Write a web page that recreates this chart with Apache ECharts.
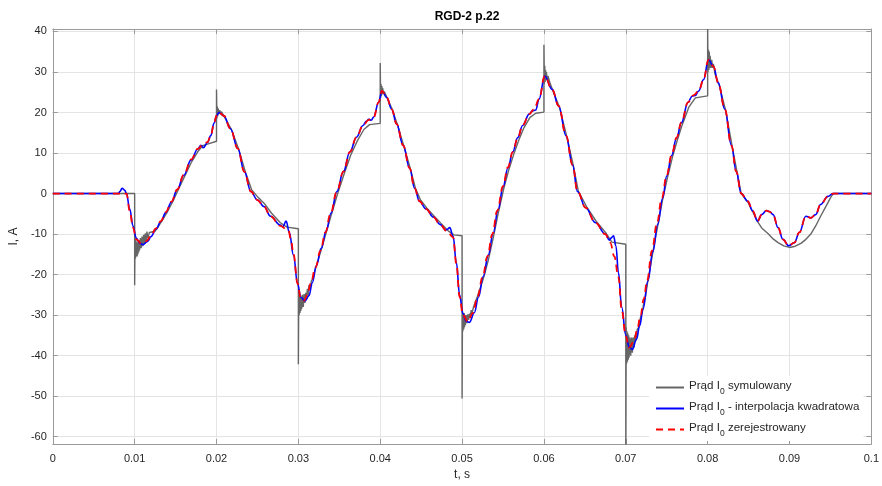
<!DOCTYPE html>
<html>
<head>
<meta charset="utf-8">
<script src="https://cdn.jsdelivr.net/npm/echarts@6/dist/echarts.min.js"></script>
<style>
  html, body { margin: 0; padding: 0; background: #ffffff; }
  #chart { width: 882px; height: 486px; }
</style>
</head>
<body>
<div id="chart"></div>
<script>
// Simulated current (with switching spikes and ringing)
const grayT = [
  0, 0.0100, 0.0100,
  0.01005, 0.0101, 0.01015, 0.0102, 0.01025, 0.0103, 0.01035, 0.0104, 0.01045, 0.0105, 0.01055, 0.0106, 0.0107, 0.0108, 0.0109, 0.0110, 0.0111, 0.0112, 0.0113, 0.0114, 0.0115, 0.0116, 0.0118, 0.0120,
  0.0125, 0.0130, 0.0135, 0.0140, 0.0146, 0.0153, 0.0160, 0.0169, 0.0177, 0.0183, 0.0189, 0.0200, 0.0200,
  0.02005, 0.0201, 0.02015, 0.0202, 0.0203, 0.0204, 0.0205, 0.0206, 0.0209,
  0.0218, 0.0227, 0.0235, 0.0243, 0.0251, 0.0259, 0.0267, 0.0278, 0.0286, 0.0300, 0.0300,
  0.03005, 0.0301, 0.03015, 0.0302, 0.03025, 0.0303, 0.03035, 0.0304, 0.0305, 0.0306, 0.0307, 0.0308, 0.0309, 0.0310, 0.0311, 0.0312, 0.0313, 0.0314, 0.0316, 0.0318, 0.0320,
  0.0327, 0.0334, 0.0340, 0.0348, 0.0356, 0.0364, 0.0372, 0.0380, 0.0387, 0.0400, 0.0400,
  0.04005, 0.0401, 0.04015, 0.0402, 0.04025, 0.0403, 0.0404, 0.0405, 0.0408,
  0.0415, 0.0421, 0.0429, 0.0437, 0.0443, 0.0449, 0.0457, 0.0466, 0.0474, 0.0483, 0.0490, 0.0500, 0.0500,
  0.05005, 0.0501, 0.05015, 0.0502, 0.05025, 0.0503, 0.05035, 0.0504, 0.0505, 0.0506, 0.0507, 0.0508, 0.0509, 0.0510, 0.0511, 0.0512, 0.0514, 0.0516,
  0.0518, 0.0526, 0.0532, 0.0538, 0.0544, 0.0551, 0.0557, 0.0563, 0.0569, 0.0575, 0.0583, 0.0590, 0.0600, 0.0600,
  0.06005, 0.0601, 0.06015, 0.0602, 0.06025, 0.0603, 0.0604, 0.0605, 0.0607,
  0.0611, 0.0619, 0.0628, 0.0636, 0.0642, 0.0652, 0.0664, 0.0676, 0.0683, 0.0700, 0.0700,
  0.07005, 0.0701, 0.07015, 0.0702, 0.07025, 0.0703, 0.07035, 0.0704, 0.0705, 0.0706, 0.0707, 0.0708, 0.0709, 0.0710, 0.0711, 0.0712, 0.0714, 0.0716, 0.0718, 0.0720, 0.0722, 0.0724,
  0.0727, 0.0733, 0.0739, 0.0745, 0.0751, 0.0757, 0.0763, 0.0769, 0.0777, 0.0785, 0.0800, 0.0800,
  0.08005, 0.0801, 0.08015, 0.0802, 0.08025, 0.0803, 0.0804, 0.0805, 0.0806, 0.0807, 0.0809,
  0.0814, 0.0822, 0.0830, 0.0836, 0.0841, 0.0849, 0.0855, 0.0861, 0.0866, 0.0874, 0.0880, 0.0886, 0.0893, 0.0900, 0.0907, 0.0914, 0.0920, 0.0926, 0.0932, 0.0938, 0.0945, 0.0951, 0.0954, 0.1000
];
const grayI = [
  0, 0, -22.6,
  -11, -16, -11.5, -15.5, -12, -15.5, -12, -15, -11.8, -14.5, -11.5, -14, -11, -13.5, -10.6, -13, -10.2, -12.4, -9.8, -11.8, -9.4, -11, -9.6, -10,
  -9.3, -7.8, -6.2, -4.5, -2.2, 0.8, 3.8, 7.6, 10.3, 11.8, 12.2, 12.9, 25.7,
  18.5, 21.5, 19, 21, 19.6, 20.6, 19.6, 20.2, 19.1,
  15.9, 11, 5.5, 0.9, -1, -2.6, -4.8, -7.2, -8.3, -8.7, -42.1,
  -24, -30, -25, -29.5, -25, -29, -25.5, -28.5, -25, -28, -24.8, -27, -24.5, -26, -23.5, -25, -22.6, -23.6, -21.5, -21, -19.2,
  -14.5, -9.6, -5.4, 0, 4.9, 9.5, 13, 15.8, 17, 17.3, 32.2,
  23.5, 27, 24, 26.5, 24.5, 26, 24.6, 25.2, 23.8,
  20.6, 17, 11.6, 6, 1.3, -1.5, -3.6, -5.6, -7.3, -9.2, -10.2, -10.4, -50.6,
  -29, -34, -29.5, -33.5, -29.5, -33, -30, -32.5, -30, -32, -29.8, -31.2, -29.6, -30.4, -28.8, -29.6, -28, -26.8,
  -25.8, -21, -16.5, -11, -5, 1.3, 5.8, 9.6, 13, 16, 18.8, 19.8, 20.1, 36.7,
  27, 31.5, 27.5, 30.5, 28, 30, 28, 29, 27.5,
  25.3, 21.3, 14, 6.8, 0.6, -3.2, -6.9, -9.8, -12, -12.5, -64,
  -33, -42, -34, -41.5, -34.5, -41, -35, -40.5, -35.5, -40, -35.5, -39.3, -35.5, -38, -35, -36.5, -33.5, -33, -30.5, -29.5, -27, -25.5,
  -21.5, -14.6, -8, -1.5, 4, 9, 13.2, 17, 21.3, 23.6, 24.1, 40.6,
  30, 35.5, 30.5, 35, 31, 34, 31, 33, 31, 32, 29.5,
  26.8, 20.5, 11.6, 5.2, 0, -2.1, -4.5, -6.9, -8.5, -9.9, -11.2, -12.1, -12.9, -13.3, -13, -12.3, -11.3, -10, -8, -5.6, -3, -0.7, 0, 0
];

// Current from quadratic interpolation
const blueT = [
  0, 0.0080, 0.0082, 0.00847, 0.0088, 0.0090, 0.0094, 0.0098, 0.0102, 0.0106, 0.0110, 0.0116, 0.0120, 0.0126, 0.0132, 0.0138, 0.0145, 0.0152, 0.0160, 0.0169, 0.0177, 0.0181, 0.0184, 0.0189, 0.0193, 0.0197, 0.0200, 0.0203, 0.0209, 0.0217, 0.0226, 0.0234, 0.0242, 0.0250, 0.0258, 0.0266,
  0.0278, 0.0281, 0.0285, 0.0289, 0.0294, 0.0299, 0.0303, 0.0308, 0.0313, 0.0317, 0.0322, 0.0328, 0.0334, 0.0340, 0.0347, 0.0355, 0.0363, 0.0371, 0.0379, 0.0383, 0.0386, 0.0389, 0.0392, 0.0398, 0.0402, 0.0408, 0.0414, 0.0420, 0.0428, 0.0436, 0.0442, 0.0448, 0.0456, 0.0465,
  0.0473, 0.0480, 0.0482, 0.0485, 0.0489, 0.0493, 0.0497, 0.0501, 0.0505, 0.0509, 0.0515, 0.0520, 0.0526, 0.0532, 0.0538, 0.0544, 0.0550, 0.0556, 0.0562, 0.0568, 0.0574, 0.0582, 0.0586, 0.0590, 0.0594, 0.0601, 0.0610, 0.0618, 0.0627, 0.0635, 0.0641, 0.0651, 0.0663,
  0.0675, 0.0680, 0.0682, 0.0685, 0.0688, 0.0691, 0.0695, 0.0700, 0.0704, 0.0708, 0.0713, 0.0717, 0.0721, 0.0727, 0.0733, 0.0739, 0.0745, 0.0750, 0.0756, 0.0762, 0.0768, 0.0776, 0.0781, 0.0785, 0.0789, 0.0795, 0.0801, 0.0807, 0.0813, 0.0821, 0.0829, 0.0835,
  0.0841, 0.0849, 0.0855, 0.0861, 0.0866, 0.0872, 0.0876, 0.0880, 0.0886, 0.0892, 0.0899, 0.0906, 0.0912, 0.0920, 0.0926, 0.0932, 0.0938, 0.0947, 0.0953, 0.1000
];
const blueI = [
  0, 0, 0.5, 1.3, 0.8, 0, -3.8, -8.0, -11.0, -12.2, -12.6, -11.8, -10.6, -8.8, -6.9, -4.7, -2.1, 1.0, 4.5, 8.3, 11.0, 11.9, 11.3, 12.6, 14.3, 17.4, 19.2, 20, 19.2, 16, 11.1, 5.4, 0.5, -1.6, -3.2, -5.6,
  -7.8, -8.2, -6.8, -9.6, -15.2, -22.2, -25.6, -26.5, -25.2, -22.0, -17.8, -13.5, -9.2, -4.8, 0.5, 5.4, 10.3, 13.9, 16.8, 17.8, 18.3, 18.1, 18.9, 22.5, 25.3, 23.7, 20.8, 17.2, 11.9, 6.2, 1.3, -1.9, -3.8, -5.8,
  -7.6, -9.0, -8.8, -8.4, -10.5, -17.0, -25.0, -29.6, -31.5, -31.8, -29.4, -25.6, -20.4, -15.2, -9.8, -4.0, 1.6, 6.3, 10.3, 13.8, 16.8, 19.6, 20.4, 20.6, 23.3, 29, 25.7, 21.6, 14.3, 7, 0.5, -3.5, -7.2,
  -10, -11.5, -11.0, -10.4, -13.0, -19.5, -28.0, -35.0, -37.8, -38.5, -36.0, -32.6, -28.6, -21.6, -14.4, -7.6, -1.2, 4.3, 9.4, 13.7, 17.5, 22.5, 24.0, 24.2, 25.3, 28.1, 33, 31.4, 27.3, 20.8, 11.9, 5.4,
  0, -1.9, -4.3, -6.8, -5.2, -4.2, -4.5, -5.2, -8.4, -11.3, -12.9, -12.1, -9.6, -5.6, -6.0, -5.2, -2.7, -0.7, 0, 0
];

// Recorded current
const redT = [
  0, 0.0080, 0.0090, 0.0094, 0.0098, 0.0102, 0.0108, 0.0114, 0.0120, 0.0126, 0.0132, 0.0138, 0.0145, 0.0152, 0.0160, 0.0169, 0.0177, 0.0183, 0.0189, 0.0193, 0.0197, 0.0200, 0.0203, 0.0209, 0.0217, 0.0226, 0.0234, 0.0242, 0.0250, 0.0258, 0.0266,
  0.0278, 0.0288, 0.0291, 0.0294, 0.0299, 0.0303, 0.0307, 0.0311, 0.0315, 0.0321, 0.0327, 0.0333, 0.0339, 0.0347, 0.0355, 0.0363, 0.0371, 0.0379, 0.0386, 0.0392, 0.0398, 0.0402, 0.0408, 0.0414, 0.0420, 0.0428, 0.0436, 0.0442, 0.0448, 0.0456, 0.0465,
  0.0473, 0.0482, 0.0489, 0.0493, 0.0497, 0.0501, 0.0507, 0.0513, 0.0519, 0.0525, 0.0531, 0.0537, 0.0543, 0.0550, 0.0556, 0.0562, 0.0568, 0.0574, 0.0582, 0.0588, 0.0594, 0.0601, 0.0610, 0.0618, 0.0627, 0.0635, 0.0641, 0.0651, 0.0663,
  0.0675, 0.0681, 0.0686, 0.0691, 0.0695, 0.0700, 0.0704, 0.0710, 0.0714, 0.0718, 0.0722, 0.0726, 0.0732, 0.0738, 0.0744, 0.0750, 0.0756, 0.0762, 0.0768, 0.0776, 0.0783, 0.0789, 0.0795, 0.0801, 0.0807, 0.0813, 0.0821, 0.0829, 0.0835,
  0.0841, 0.0849, 0.0855, 0.0861, 0.0866, 0.0872, 0.0876, 0.0880, 0.0886, 0.0892, 0.0899, 0.0906, 0.0912, 0.0920, 0.0926, 0.0932, 0.0938, 0.0947, 0.0953, 0.1000
];
const redI = [
  0, 0, 0, -4.3, -8.4, -11.3, -12.3, -11.8, -10.4, -8.6, -6.8, -4.6, -2.0, 1.0, 4.6, 8.4, 11.0, 12.0, 12.7, 14.3, 17.4, 19.2, 20, 19.2, 16, 11.1, 5.4, 0.5, -1.6, -3.2, -5.6,
  -8.0, -9.2, -11.5, -14.9, -22.2, -25.9, -26.4, -25.0, -22.2, -18.2, -14.1, -9.6, -5.2, 0.5, 5.4, 10.3, 13.9, 16.8, 18.2, 18.8, 22.5, 25.3, 23.7, 20.8, 17.2, 11.9, 6.2, 1.3, -1.9, -3.8, -5.8,
  -7.6, -9.4, -10.8, -17.3, -25.5, -29.9, -31.6, -29.5, -25.4, -20.6, -15.5, -10, -4.2, 1.8, 6.5, 10.3, 13.8, 16.8, 19.6, 20.8, 23.3, 29, 25.7, 21.6, 14.3, 7, 0.5, -3.5, -7.2,
  -10, -12.1, -15.5, -20.6, -28.7, -35.2, -38, -36.5, -33.5, -30, -26, -21.5, -14.1, -7.4, -1.1, 4.5, 9.5, 13.8, 17.6, 22.5, 24.3, 25.3, 28.1, 33, 31.4, 27.3, 20.8, 11.9, 5.4,
  0, -1.9, -4.3, -6.8, -5.2, -4.2, -4.5, -5.2, -8.4, -11.3, -12.9, -12.1, -9.6, -5.6, -6.0, -5.2, -2.7, -0.7, 0, 0
];

// Axis ticks
const xTickLabels = ['0', '0.01', '0.02', '0.03', '0.04', '0.05', '0.06', '0.07', '0.08', '0.09', '0.1'];
const yTickValues = [-60, -50, -40, -30, -20, -10, 0, 10, 20, 30, 40];

const seriesNames = ['Prąd I0 symulowany', 'Prąd I0 - interpolacja kwadratowa', 'Prąd I0 zerejestrowany'];
const legendRich = [
  '{a|Prąd I}{s|0}{a| symulowany}',
  '{a|Prąd I}{s|0}{a| - interpolacja kwadratowa}',
  '{a|Prąd I}{s|0}{a| zerejestrowany}'
];

const zip = (t, v) => t.map((x, i) => [x, v[i]]);

const FONT = 'Liberation Sans, Arial, sans-serif';
const axisGray = '#9a9a9a';
const gridGray = '#e4e4e4';
const textGray = '#262626';

const chart = echarts.init(document.getElementById('chart'), null, { renderer: 'canvas' });

const xLabelFmt = v => xTickLabels[Math.round(v * 100)] ?? '';

chart.setOption({
  animation: false,
  backgroundColor: '#ffffff',
  title: {
    text: 'RGD-2 p.22',
    left: 462, top: 6, textAlign: 'center',
    textStyle: { fontFamily: FONT, fontSize: 12, fontWeight: 'bold', color: '#000' }
  },
  grid: { left: 51, right: 8, top: 29, bottom: 37 },
  legend: {
    orient: 'vertical',
    left: 649, top: 376,
    itemWidth: 28, itemHeight: 12, itemGap: 4,
    backgroundColor: '#ffffff',
    padding: [3, 4, 3, 6],
    data: seriesNames,
    itemStyle: { opacity: 0 },
    formatter: name => legendRich[seriesNames.indexOf(name)],
    textStyle: {
      fontFamily: FONT, color: textGray,
      rich: {
        a: { fontFamily: FONT, fontSize: 11.6, color: textGray, lineHeight: 17, verticalAlign: 'top', padding: [1, 0, 0, 0] },
        s: { fontFamily: FONT, fontSize: 8.5, color: textGray, lineHeight: 17, verticalAlign: 'bottom' }
      }
    }
  },
  xAxis: [{
    type: 'value', min: 0, max: 0.1, interval: 0.01,
    name: 't, s', nameLocation: 'middle', nameGap: 25,
    nameTextStyle: { fontFamily: FONT, fontSize: 12, color: textGray },
    axisLine: { show: true, onZero: false, lineStyle: { color: axisGray } },
    axisTick: { show: true, inside: true, length: 5, lineStyle: { color: axisGray } },
    axisLabel: { fontFamily: FONT, fontSize: 11, color: textGray, margin: 9, formatter: xLabelFmt, showMaxLabel: true },
    splitLine: { show: true, lineStyle: { color: gridGray, width: 1 } }
  }, {
    type: 'value', min: 0, max: 0.1, interval: 0.01, position: 'top',
    axisLine: { show: true, onZero: false, lineStyle: { color: axisGray } },
    axisTick: { show: true, inside: true, length: 5, lineStyle: { color: axisGray } },
    axisLabel: { show: false },
    splitLine: { show: false }
  }],
  yAxis: [{
    type: 'value', min: -61.8, max: 40.6,
    name: 'I, A', nameLocation: 'middle', nameGap: 31, nameRotate: 90,
    nameTextStyle: { fontFamily: FONT, fontSize: 12, color: textGray },
    axisLine: { show: true, onZero: false, lineStyle: { color: axisGray } },
    axisTick: { show: true, inside: true, length: 5, customValues: yTickValues, lineStyle: { color: axisGray } },
    axisLabel: { fontFamily: FONT, fontSize: 11, color: textGray, margin: 6, customValues: yTickValues },
    splitLine: { show: true, lineStyle: { color: gridGray, width: 1 } }
  }, {
    type: 'value', min: -61.8, max: 40.6, position: 'right',
    axisLine: { show: true, onZero: false, lineStyle: { color: axisGray } },
    axisTick: { show: true, inside: true, length: 5, customValues: yTickValues, lineStyle: { color: axisGray } },
    axisLabel: { show: false, customValues: yTickValues },
    splitLine: { show: false }
  }],
  series: [{
    name: seriesNames[0], type: 'line', data: zip(grayT, grayI),
    showSymbol: false, symbol: 'none',
    lineStyle: { color: '#666666', width: 1.4 }, itemStyle: { color: '#666666' },
    z: 2
  }, {
    name: seriesNames[1], type: 'line', data: zip(blueT, blueI),
    showSymbol: false, symbol: 'none', smooth: 0.4, smoothMonotone: 'x',
    lineStyle: { color: '#0000ff', width: 1.6 }, itemStyle: { color: '#0000ff' },
    z: 3
  }, {
    name: seriesNames[2], type: 'line', data: zip(redT, redI),
    showSymbol: false, symbol: 'none', smooth: 0.4, smoothMonotone: 'x',
    lineStyle: { color: '#ff0000', width: 1.8, type: [7, 5] }, itemStyle: { color: '#ff0000' },
    z: 4
  }]
});
</script>
</body>
</html>
